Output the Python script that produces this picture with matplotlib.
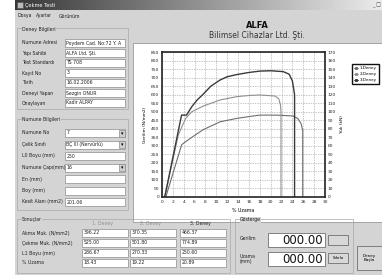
import matplotlib
matplotlib.use("Agg")
import matplotlib.pyplot as plt
import numpy as np
from matplotlib.patches import Rectangle
from matplotlib.lines import Line2D

plt.rcParams["font.family"] = ["DejaVu Sans"]

# --- chart data ---
uzama_3 = [0.5, 3.6, 4.5, 5.5, 6.5, 7.5, 9.0, 10.7, 12.0, 13.8, 16.0, 18.0, 20.0, 22.3, 23.4, 24.0, 24.4, 24.4]
gerilim_3 = [0, 480, 480, 530, 570, 600, 650, 686, 705, 718, 730, 738, 740, 735, 720, 680, 600, 0]
uzama_2 = [0.5, 3.0, 3.5, 4.4, 5.5, 7.6, 10.7, 13.7, 16.0, 18.0, 20.8, 21.5, 21.8, 21.9, 21.9]
gerilim_2 = [0, 363, 400, 463, 500, 533, 569, 588, 595, 598, 592, 575, 540, 500, 0]
uzama_1 = [0.7, 3.6, 3.9, 5.5, 7.6, 10.7, 13.8, 16.8, 18.0, 21.0, 24.1, 25.0, 25.6, 25.9, 25.9]
gerilim_1 = [0, 305, 314, 350, 395, 441, 461, 475, 480, 480, 475, 460, 430, 390, 0]

x_ticks = list(range(0, 31, 2))
y_ticks = list(range(0, 851, 50))
kn_ticks = list(range(0, 171, 10))
legend_labels = ["1.Deney", "2.Deney", "3.Deney"]

# --- form texts ---
window_title = "Çekme Testi"
menu_items = ["Dosya", "Ayarlar", "Görünüm"]
deney_labels = ["Numune Adresi", "Yapı Sahibi", "Test Standardı", "Kayıt No",
                "Tarih", "Deneyi Yapan", "Onaylayan"]
deney_values = ["Poydem Cad. No:72 Y. A", "ALFA Ltd. Şti.", "TS 708", "3",
                "16.02.2006", "Sezgin ONUR", "Kadir ALPAY"]
numune_labels = ["Numune No", "Çelik Sınıfı", "L0 Boyu (mm)", "Numune Çapı(mm)",
                 "En (mm)", "Boy (mm)", "Kesit Alanı (mm2)"]
numune_values = ["7", "BÇ III (Nervürlü)", "250", "16", "", "", "201.06"]
numune_combo = [True, True, False, True, False, False, False]
sonuc_labels = ["Akma Muk. (N/mm2)", "Çekme Muk. (N/mm2)", "L1 Boyu (mm)", "% Uzama"]
sonuc_cols = ["1. Deney", "2. Deney", "3. Deney"]
sonuc_values = [["396.22", "370.35", "466.37"],
                ["525.00", "501.80", "774.89"],
                ["286.67", "270.33", "250.60"],
                ["18.43", "19.22", "20.89"]]

W, H = 382, 275
BG = "#d4d4d4"
FS = 3.3

fig = plt.figure(figsize=(W / 100, H / 100), dpi=100)
fig.patch.set_facecolor("white")
ui = fig.add_axes([0, 0, 1, 1])
ui.set_xlim(0, W)
ui.set_ylim(H, 0)
ui.axis("off")


def box(x, y, w, h, fc="white", ec="#8c8c8c", lw=0.5, z=2):
    ui.add_patch(Rectangle((x, y), w, h, facecolor=fc, edgecolor=ec, lw=lw, zorder=z))


def group(x, y, w, h, title):
    box(x, y, w, h, fc="none", ec="#a8a8a8", lw=0.5)
    ui.text(x + 5, y + 1, title, fontsize=FS, va="center", ha="left",
            color="#202020", zorder=3, bbox=dict(fc=BG, ec="none", pad=0.3))


def field(x, y, w, text, combo=False):
    box(x, y - 4, w, 8)
    ui.text(x + 1.5, y, text, fontsize=FS, va="center", ha="left", color="#202020", zorder=3)
    if combo:
        box(x + w - 6, y - 3.5, 5.5, 7, fc="#d0d0d0", ec="#8c8c8c", z=3)
        ui.text(x + w - 3.25, y + 0.3, "▾", fontsize=3.5, ha="center", va="center", zorder=4)


# window background and title bar
box(15, 0, W - 15, H, fc=BG, ec="none", z=0)
grad = np.linspace(0.22, 0.92, 256)[None, :]
ui.imshow(grad, cmap="gray", vmin=0, vmax=1, extent=[15, W, 10, 0], aspect="auto", zorder=1)
box(16.5, 2, 6, 6, fc="#bbbbbb", ec="#555555", z=2)
ui.text(25, 5, window_title, fontsize=3.6, color="white", va="center", ha="left", zorder=3)
ui.text(372, 5, "_ □", fontsize=3.6, color="#444444", va="center", ha="left", zorder=3)
mx = 18
for item in menu_items:
    t = ui.text(mx, 16, item, fontsize=FS, va="center", ha="left", color="#202020", zorder=3)
    mx += len(item) * 2.4 + 6

# left panel
group(17, 28, 111, 81, "Deney Bilgileri")
for i, (lab, val) in enumerate(zip(deney_labels, deney_values)):
    y = 43 + i * 10
    ui.text(22, y, lab, fontsize=FS, va="center", ha="left", color="#202020", zorder=3)
    field(65, y, 60, val)

group(17, 119, 111, 91, "Numune Bilgileri")
for i, (lab, val, cb) in enumerate(zip(numune_labels, numune_values, numune_combo)):
    y = 133 + i * 11.5
    ui.text(22, y, lab, fontsize=FS, va="center", ha="left", color="#202020", zorder=3)
    field(65, y, 60, val, combo=cb)

# chart panel
box(133, 43, W - 133, 179, fc="white", ec="#9a9a9a", lw=0.6, z=1)
ui.text(257, 26, "ALFA", fontsize=6, fontweight="bold", ha="center", va="center", color="#111111")
ui.text(257, 35, "Bilimsel Cihazlar Ltd. Şti.", fontsize=5.5, ha="center", va="center", color="#333333")

# results group
group(17, 219, 213, 54, "Sonuçlar")
col_x = [82, 130, 180]
for j, c in enumerate(sonuc_cols):
    ui.text(col_x[j] + 10, 224, c, fontsize=FS, va="center", ha="left",
            color="#909090" if j < 2 else "#202020", zorder=3)
for i, lab in enumerate(sonuc_labels):
    y = 233 + i * 10
    ui.text(22, y, lab, fontsize=FS, va="center", ha="left", color="#202020", zorder=3)
    for j in range(3):
        field(col_x[j], y, 46, sonuc_values[i][j])

# indicator group
group(235, 219, 118, 54, "Gösterge")
ui.text(240, 239, "Gerilim", fontsize=FS, va="center", ha="left", color="#202020")
ui.text(240, 257, "Uzama", fontsize=FS, va="center", ha="left", color="#202020")
ui.text(240, 262, "(mm)", fontsize=FS, va="center", ha="left", color="#202020")
for y0 in (233, 252):
    box(268, y0, 57, 13.5, ec="#707070", lw=0.6)
    ui.text(323, y0 + 7.2, "000.00", fontsize=8.5, ha="right", va="center", color="#111111", zorder=3)
box(328, 235, 20, 10, fc="#d8d8d8", ec="#707070", lw=0.6, z=3)
box(328, 253, 20, 10, fc="#d8d8d8", ec="#707070", lw=0.6, z=3)
ui.text(338, 258, "Sıfırla", fontsize=2.8, ha="center", va="center", zorder=4)
box(357, 246, 25, 24, fc="#d8d8d8", ec="#707070", lw=0.6, z=3)
ui.text(369.5, 258, "Deney\nBaşla", fontsize=3, ha="center", va="center", zorder=4, linespacing=1.3)

# --- stress-strain chart ---
ax = fig.add_axes([162 / W, 1 - 197 / H, 163 / W, 145 / H])
ax.set_facecolor("white")
l1, = ax.plot(uzama_1, gerilim_1, color="#6e6e6e", lw=0.8)
l2, = ax.plot(uzama_2, gerilim_2, color="#909090", lw=0.8)
l3, = ax.plot(uzama_3, gerilim_3, color="#3a3a3a", lw=1.0)
ax.set_xlim(0, 30)
ax.set_ylim(0, 850)
ax.set_xticks(x_ticks)
ax.set_yticks(y_ticks)
ax.grid(True, color="#b0b0b0", lw=0.5, linestyle=(0, (2, 1.5)))
ax.tick_params(labelsize=3.2, length=0, pad=2, colors="#222222")
for s in ax.spines.values():
    s.set_linewidth(1.2)
    s.set_color("#222222")
ax.set_xlabel("% Uzama", fontsize=3.4, labelpad=3)
ax.set_ylabel("Gerilim (N/mm2)", fontsize=3.2, labelpad=3)

ax2 = ax.twinx()
ax2.set_ylim(0, 170)
ax2.set_yticks(kn_ticks)
ax2.tick_params(labelsize=3.2, length=0, pad=2, colors="#222222")
for s in ax2.spines.values():
    s.set_visible(False)
ax2.set_ylabel("Yük (kN)", fontsize=3.2, labelpad=3)

handles = [Line2D([], [], color=c, lw=0.6, marker="s", ms=1.2)
           for c in ("#6e6e6e", "#909090", "#3a3a3a")]
leg = fig.legend(handles, legend_labels, loc="upper left",
                 bbox_to_anchor=(350 / W, 1 - 62 / H), fontsize=3,
                 handlelength=1.0, handletextpad=0.4, borderpad=0.5,
                 labelspacing=0.5, fancybox=False, framealpha=1)
leg.get_frame().set_edgecolor("#111111")
leg.get_frame().set_linewidth(1.0)

fig.savefig("out.png", dpi=100)
